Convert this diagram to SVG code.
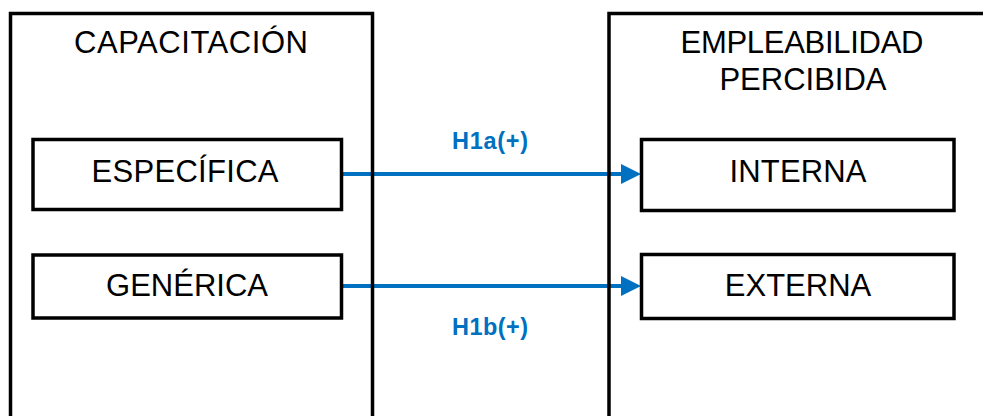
<svg xmlns="http://www.w3.org/2000/svg" width="983" height="416" viewBox="0 0 983 416">
  <style>
    .frame { fill: none; stroke: #000; stroke-width: 3.5; }
    .box { fill: #fff; stroke: #000; stroke-width: 3.5; }
    .title { font-family: "Liberation Sans", Arial, sans-serif; font-size: 31px; fill: #000; text-anchor: middle; }
    .label { font-family: "Liberation Sans", Arial, sans-serif; font-size: 31px; fill: #000; text-anchor: middle; }
    .hyp { font-family: "Liberation Sans", Arial, sans-serif; font-size: 23.5px; font-weight: bold; fill: #0070C0; text-anchor: middle; }
    .link { stroke: #0070C0; stroke-width: 4; fill: none; }
  </style>
  <defs>
    <marker id="arrow" markerUnits="userSpaceOnUse" markerWidth="22" markerHeight="22" refX="2" refY="10" orient="auto">
      <path d="M0,0 L20,10 L0,20 Z" fill="#0070C0"/>
    </marker>
  </defs>
  <rect x="0" y="0" width="983" height="416" fill="#fff"/>

  <!-- hypothesis connectors -->
  <g id="connectors">
    <line class="link" x1="342" y1="174" x2="623" y2="174" marker-end="url(#arrow)"/>
    <text class="hyp" x="490" y="149" textLength="76">H1a(+)</text>
    <line class="link" x1="342" y1="286" x2="623" y2="286" marker-end="url(#arrow)"/>
    <text class="hyp" x="490" y="335" textLength="76">H1b(+)</text>
  </g>

  <!-- training block -->
  <g id="capacitacion">
    <rect class="frame" x="10.5" y="13.5" width="362" height="420"/>
    <text class="title" x="191" y="53" textLength="234">CAPACITACIÓN</text>
  </g>
  <g id="especifica">
    <rect class="box" x="33" y="139.5" width="308.5" height="70"/>
    <text class="label" x="185" y="182" textLength="187">ESPECÍFICA</text>
  </g>
  <g id="generica">
    <rect class="box" x="33" y="255" width="308.5" height="63"/>
    <text class="label" x="187" y="296">GENÉRICA</text>
  </g>

  <!-- perceived employability block -->
  <g id="empleabilidad">
    <rect class="frame" x="609" y="13.5" width="400" height="420"/>
    <text class="title" x="802" y="53" textLength="243">EMPLEABILIDAD</text>
    <text class="title" x="803" y="90">PERCIBIDA</text>
  </g>
  <g id="interna">
    <rect class="box" x="641.5" y="139.5" width="312.5" height="71"/>
    <text class="label" x="798" y="182" textLength="137">INTERNA</text>
  </g>
  <g id="externa">
    <rect class="box" x="641.5" y="254.5" width="312.5" height="64"/>
    <text class="label" x="798" y="296">EXTERNA</text>
  </g>
</svg>
